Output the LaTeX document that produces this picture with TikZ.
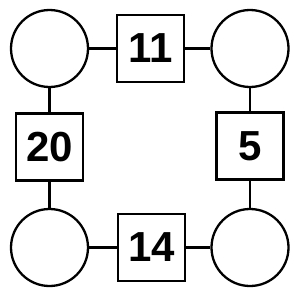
\documentclass[tikz,border=0pt]{standalone}
\usepackage{fontspec}
\setmainfont{Liberation Sans}
\begin{document}
\begin{tikzpicture}[x=1pt,y=-1pt,
  ring/.style={draw=black,line width=2.3pt,circle,minimum size=77pt,inner sep=0pt},
  numbox/.style={draw=black,line width=2.3pt,rectangle,minimum size=67pt,inner sep=0pt,font=\fontsize{42}{42}\selectfont\bfseries},
  link/.style={line width=2.3pt}]
\useasboundingbox (0,0) rectangle (300,300);
\node[ring] (c1) at (49.5,48.5) {};
\node[ring] (c2) at (250,48.5) {};
\node[ring] (c3) at (49.5,247.5) {};
\node[ring] (c4) at (250,247.5) {};
\node[numbox] (b1) at (150.5,48.5) {11};
\node[numbox] (b2) at (49.5,147) {20};
\node[numbox] (b3) at (250,146) {5};
\node[numbox] (b4) at (151.5,247.5) {14};
\draw[link] (c1) -- (b1);
\draw[link] (b1) -- (c2);
\draw[link] (c1) -- (b2);
\draw[link] (b2) -- (c3);
\draw[link] (c2) -- (b3);
\draw[link] (b3) -- (c4);
\draw[link] (c3) -- (b4);
\draw[link] (b4) -- (c4);
\end{tikzpicture}
\end{document}
